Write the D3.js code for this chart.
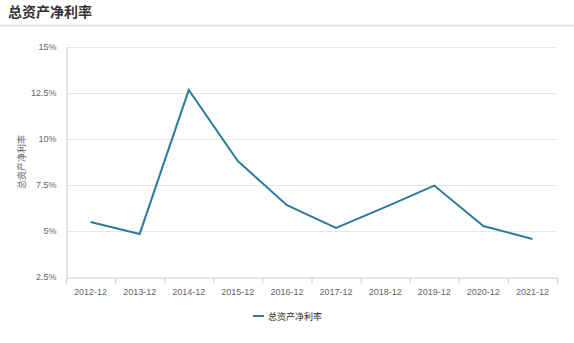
<!DOCTYPE html>
<html>
<head>
  <meta charset="utf-8">
  <script src="https://d3js.org/d3.v7.min.js"></script>
  <style>
    body { margin: 0; background: #fff; font-family: "Noto Sans CJK SC", "Noto Sans", sans-serif; }
    .tick text { fill: #666; font-size: 9px; }
  </style>
</head>
<body>
<script>
  // data
  var years = ["2012-12","2013-12","2014-12","2015-12","2016-12","2017-12","2018-12","2019-12","2020-12","2021-12"];
  var roa = [5.49, 4.84, 12.66, 8.8, 6.4, 5.17, 6.3, 7.47, 5.27, 4.57];
  var yTicks = [2.5, 5, 7.5, 10, 12.5, 15];
  var seriesName = "总资产净利率";

  var width = 574, height = 343;
  var margin = {top: 47, right: 17, bottom: 66, left: 66};

  var svg = d3.select("body").append("svg")
      .attr("width", width)
      .attr("height", height);

  // title + separator
  svg.append("text")
      .attr("x", 8).attr("y", 17)
      .style("font-size", "14px").style("font-weight", "bold").style("fill", "#333")
      .text(seriesName);
  svg.append("line")
      .attr("x1", 0).attr("x2", width).attr("y1", 25.5).attr("y2", 25.5)
      .style("stroke", "#e4e4e4").style("stroke-width", 2);

  var x = d3.scaleBand().domain(years)
      .range([margin.left, width - margin.right]);
  var y = d3.scaleLinear().domain([2.5, 15])
      .range([height - margin.bottom, margin.top]);

  // gridlines
  svg.append("g").selectAll("line").data(yTicks.slice(1)).enter().append("line")
      .attr("x1", margin.left).attr("x2", width - margin.right)
      .attr("y1", function(d) { return Math.round(y(d)) + 0.5; })
      .attr("y2", function(d) { return Math.round(y(d)) + 0.5; })
      .style("stroke", "#e6e6e6");

  // y axis
  var yAxis = svg.append("g")
      .attr("transform", "translate(" + (margin.left + 0.5) + ",0)")
      .call(d3.axisLeft(y).tickValues(yTicks).tickSize(0).tickPadding(10)
        .tickFormat(function(d) { return d + "%"; }));
  yAxis.select(".domain").style("stroke", "#ccc");

  // x axis
  var xAxis = svg.append("g")
      .attr("transform", "translate(0," + (Math.round(y(2.5)) + 0.5) + ")")
      .call(d3.axisBottom(x).tickSize(0).tickPadding(11));
  xAxis.select(".domain").style("stroke", "#ccc");
  xAxis.selectAll(".sep").data(years.concat(["end"])).enter().append("line")
      .attr("x1", function(d, i) { return margin.left + i * x.step() + 0.5; })
      .attr("x2", function(d, i) { return margin.left + i * x.step() + 0.5; })
      .attr("y1", 0).attr("y2", 6)
      .style("stroke", "#ccc");

  // y axis title
  svg.append("text")
      .attr("transform", "translate(25," + ((margin.top + height - margin.bottom) / 2) + ") rotate(-90)")
      .attr("text-anchor", "middle")
      .style("font-size", "9px").style("fill", "#666")
      .text(seriesName);

  // line
  var line = d3.line()
      .x(function(d, i) { return x(years[i]) + x.bandwidth() / 2; })
      .y(function(d) { return y(d); });
  svg.append("path")
      .datum(roa)
      .attr("d", line)
      .style("fill", "none")
      .style("stroke", "#2f7b9e")
      .style("stroke-width", 2);

  // legend
  var lg = svg.append("g").attr("transform", "translate(253,316)");
  lg.append("line").attr("x1", 0).attr("x2", 11).attr("y1", 0).attr("y2", 0)
      .style("stroke", "#2f7b9e").style("stroke-width", 2);
  lg.append("text").attr("x", 15).attr("y", 3.5)
      .style("font-size", "9px").style("fill", "#333")
      .text(seriesName);
</script>
</body>
</html>
